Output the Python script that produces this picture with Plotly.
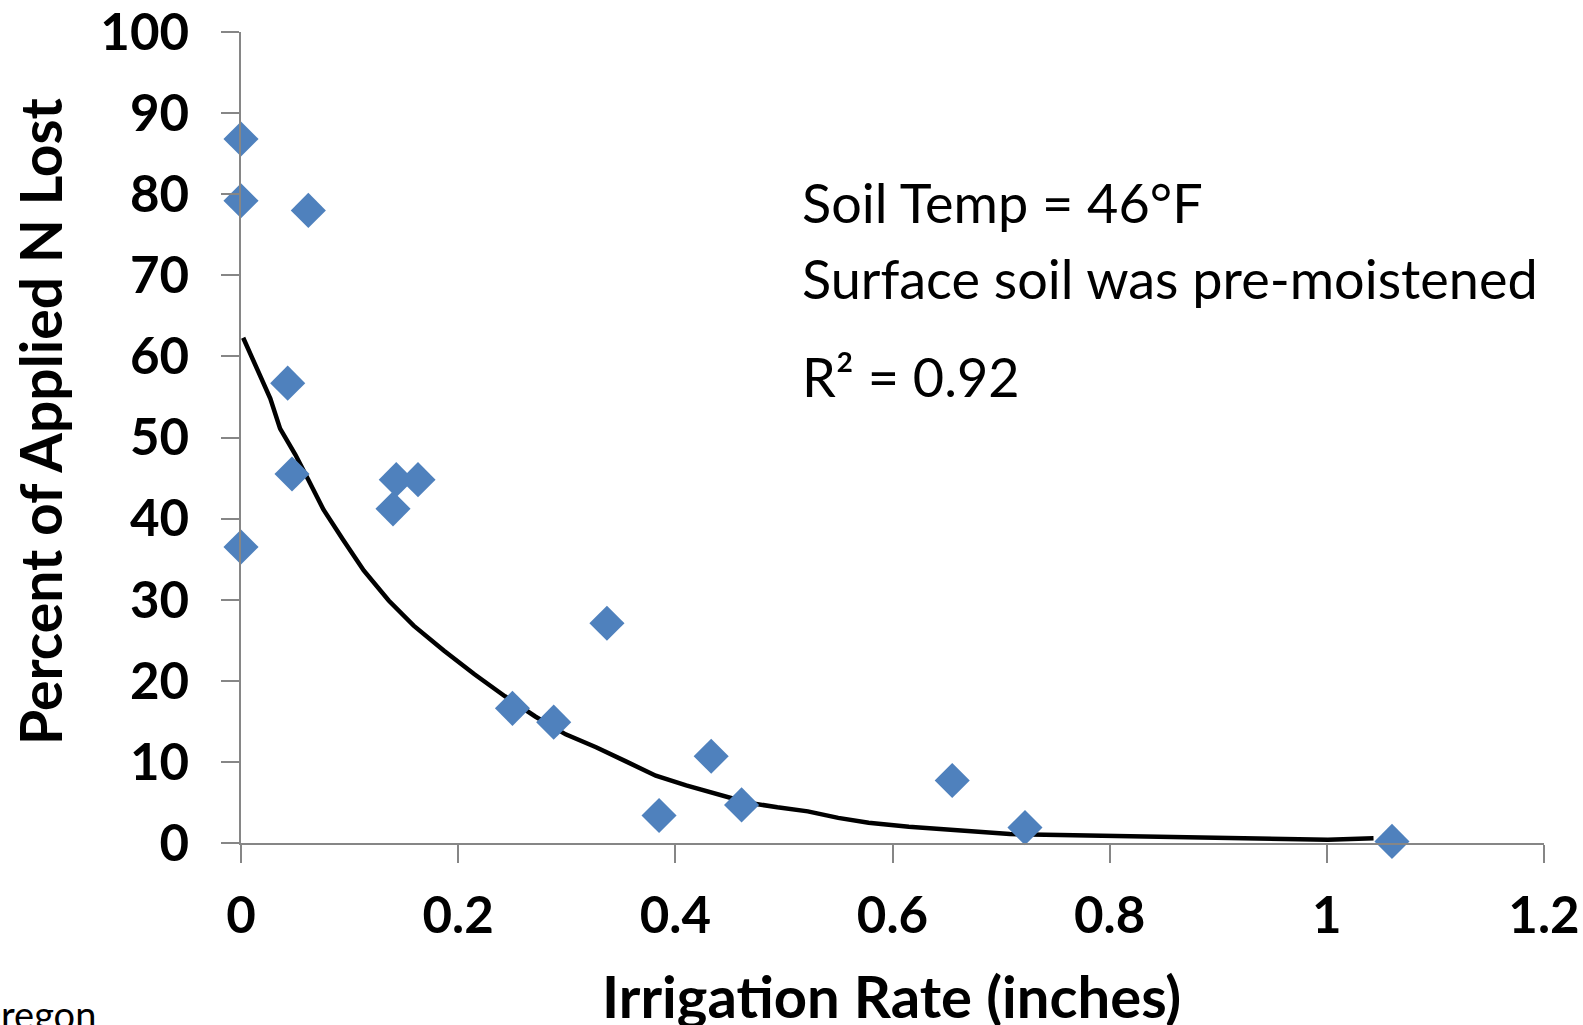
import plotly.graph_objects as go

# Scatter data: irrigation rate (inches) vs percent of applied N lost
irrigation = [0.0, 0.0, 0.062, 0.043, 0.047, 0.0, 0.143, 0.163, 0.140,
              0.250, 0.288, 0.337, 0.385, 0.433, 0.461, 0.655, 0.722, 1.060]
n_lost = [86.8, 79.2, 78.0, 56.7, 45.5, 36.5, 44.8, 44.8, 41.2,
          16.6, 14.9, 27.1, 3.4, 10.7, 4.7, 7.7, 1.9, 0.2]

# Trend line as drawn in the picture
trend_x = [0.002, 0.015, 0.027, 0.036, 0.050, 0.062, 0.076, 0.094, 0.113, 0.136,
           0.159, 0.187, 0.215, 0.243, 0.271, 0.299, 0.327, 0.354, 0.382, 0.410,
           0.438, 0.466, 0.494, 0.522, 0.550, 0.578, 0.615, 0.661, 0.708, 0.754,
           0.801, 0.847, 0.894, 0.959, 1.001, 1.043]
trend_y = [62.3, 58.5, 54.8, 51.1, 47.9, 44.8, 41.1, 37.4, 33.6, 29.9,
           26.8, 23.7, 20.8, 18.1, 15.6, 13.4, 11.8, 10.1, 8.3, 7.1,
           6.0, 5.0, 4.4, 3.9, 3.1, 2.5, 2.0, 1.6, 1.1, 1.0,
           0.9, 0.75, 0.75, 0.6, 0.4, 0.6]

x_ticks = [0, 0.2, 0.4, 0.6, 0.8, 1, 1.2]
x_tick_labels = ["0", "0.2", "0.4", "0.6", "0.8", "1", "1.2"]
y_ticks = [0, 10, 20, 30, 40, 50, 60, 70, 80, 90, 100]

FONT = "Lato"

fig = go.Figure()
fig.add_trace(go.Scatter(x=trend_x, y=trend_y, mode="lines",
                         line=dict(color="black", width=4.5), showlegend=False,
                         cliponaxis=False))
fig.add_trace(go.Scatter(x=irrigation, y=n_lost, mode="markers",
                         marker=dict(symbol="diamond", size=27, color="#4F81BD",
                                     line=dict(width=0)),
                         showlegend=False, cliponaxis=False))

W, H = 1583, 1025
L, R, T, B = 241, 39, 32, 182
pw, ph = W - L - R, H - T - B

def px(xp):
    return (xp - L) / pw

def py(yp):
    return (H - B - yp) / ph

AX = dict(showgrid=False, zeroline=False, showline=True, linecolor="#868686",
          linewidth=1.5, ticks="outside", ticklen=18, tickcolor="#868686",
          tickwidth=1.5, ticklabeloverflow="allow")

fig.update_layout(
    width=W, height=H,
    margin=dict(l=L, r=R, t=T, b=B, autoexpand=False),
    paper_bgcolor="white", plot_bgcolor="white",
    font=dict(family=FONT, color="black"),
    xaxis=dict(range=[0, 1.2], tickvals=x_ticks, ticktext=x_tick_labels,
               ticklabelstandoff=9,
               tickfont=dict(family=FONT, size=51, color="black", weight="bold"), **AX),
    yaxis=dict(range=[0, 100], tickvals=y_ticks, ticklabelstandoff=22,
               tickfont=dict(family=FONT, size=51, color="black", weight="bold"), **AX),
    annotations=[
        dict(text="Percent of Applied N Lost", xref="paper", yref="paper",
             x=px(40), y=py(422), xanchor="center", yanchor="middle", textangle=-90,
             showarrow=False, font=dict(family=FONT, size=57, color="black", weight="bold")),
        dict(text="Irrigation Rate (inches)", xref="paper", yref="paper",
             x=px(891), y=py(996), xanchor="center", yanchor="middle",
             showarrow=False, font=dict(family=FONT, size=58, color="black", weight="bold")),
        dict(text="Soil Temp = 46°F", xref="paper", yref="paper",
             x=px(800), y=py(202), xanchor="left", yanchor="middle",
             showarrow=False, font=dict(family=FONT, size=54, color="black")),
        dict(text="Surface soil was pre-moistened", xref="paper", yref="paper",
             x=px(800), y=py(278), xanchor="left", yanchor="middle",
             showarrow=False, font=dict(family=FONT, size=54, color="black")),
        dict(text="R² = 0.92", xref="paper", yref="paper",
             x=px(800), y=py(376), xanchor="left", yanchor="middle",
             showarrow=False, font=dict(family=FONT, size=54, color="black")),
        dict(text="Oregon", xref="paper", yref="paper",
             x=px(98), y=py(1014), xanchor="right", yanchor="middle",
             showarrow=False, font=dict(family=FONT, size=38, color="black")),
    ],
)

fig.write_html("out.html", config={"displayModeBar": False},
               post_script="document.body.style.margin='0';document.body.style.overflow='hidden';")
